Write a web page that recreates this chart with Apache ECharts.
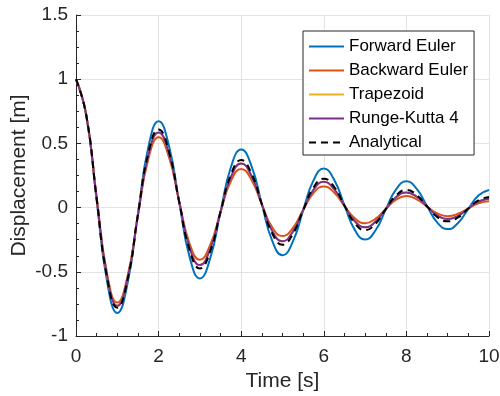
<!DOCTYPE html>
<html>
<head>
<meta charset="utf-8">
<script src="https://cdn.jsdelivr.net/npm/echarts@6/dist/echarts.min.js"></script>
<style>html,body{margin:0;padding:0;background:#fff}#c{width:500px;height:396px}</style>
</head>
<body>
<div id="c"></div>
<script>
const seriesNames = ['Forward Euler', 'Backward Euler', 'Trapezoid', 'Runge-Kutta 4', 'Analytical'];
const xTicks = [0, 2, 4, 6, 8, 10];
const yTicks = [-1, -0.5, 0, 0.5, 1, 1.5];
const time = [0,0.25,0.5,0.75,1,1.25,1.5,1.75,2,2.25,2.5,2.75,3,3.25,3.5,3.75,4,4.25,4.5,4.75,5,5.25,5.5,5.75,6,6.25,6.5,6.75,7,7.25,7.5,7.75,8,8.25,8.5,8.75,9,9.25,9.5,9.75,10];
const forwardEuler = [1,0.7154,0.0572,-0.5708,-0.82,-0.5866,-0.0469,0.4681,0.6724,0.4810,0.0385,-0.3838,-0.5514,-0.3944,-0.0315,0.3147,0.4521,0.3234,0.0259,-0.2581,-0.3707,-0.2652,-0.0212,0.2116,0.3040,0.2175,0.0174,-0.1735,-0.2493,-0.1783,-0.0143,0.1423,0.2044,0.1462,0.0117,-0.1167,-0.1676,-0.1199,-0.0096,0.0957,0.1374];
const backwardEuler = [1,0.7187,0.0825,-0.5101,-0.74,-0.5318,-0.0610,0.3775,0.5476,0.3936,0.0451,-0.2793,-0.4052,-0.2912,-0.0334,0.2067,0.2999,0.2155,0.0247,-0.1530,-0.2219,-0.1595,-0.0183,0.1132,0.1642,0.1180,0.0135,-0.0838,-0.1215,-0.0873,-0.0100,0.0620,0.0899,0.0646,0.0074,-0.0459,-0.0665,-0.0478,-0.0055,0.0339,0.0492];
const trapezoid = [1,0.7177,0.0746,-0.5291,-0.765,-0.5490,-0.0571,0.4047,0.5852,0.4200,0.0436,-0.3096,-0.4477,-0.3213,-0.0334,0.2369,0.3425,0.2458,0.0255,-0.1812,-0.2620,-0.1880,-0.0195,0.1386,0.2004,0.1438,0.0149,-0.1060,-0.1533,-0.1100,-0.0114,0.0811,0.1173,0.0842,0.0087,-0.0621,-0.0897,-0.0644,-0.0067,0.0475,0.0686];
const rungeKutta4 = [1,0.7177,0.0746,-0.5291,-0.765,-0.5490,-0.0571,0.4047,0.5852,0.4200,0.0436,-0.3096,-0.4477,-0.3213,-0.0334,0.2369,0.3425,0.2458,0.0255,-0.1812,-0.2620,-0.1880,-0.0195,0.1386,0.2004,0.1438,0.0149,-0.1060,-0.1533,-0.1100,-0.0114,0.0811,0.1173,0.0842,0.0087,-0.0621,-0.0897,-0.0644,-0.0067,0.0475,0.0686];
const analytical = [1,0.7171,0.0699,-0.5405,-0.78,-0.5593,-0.0545,0.4216,0.6084,0.4363,0.0425,-0.3288,-0.4746,-0.3403,-0.0332,0.2565,0.3702,0.2654,0.0259,-0.2001,-0.2887,-0.2070,-0.0202,0.1560,0.2252,0.1615,0.0157,-0.1217,-0.1757,-0.1260,-0.0123,0.0949,0.1370,0.0982,0.0096,-0.0741,-0.1069,-0.0766,-0.0075,0.0578,0.0834];

const allValues = [forwardEuler, backwardEuler, trapezoid, rungeKutta4, analytical];
const colors = ['#0072BD', '#D95319', '#EDB120', '#7E2F8E', '#000000'];
const FONT = '"Liberation Sans", Arial, Helvetica, sans-serif';
const TXT = '#262626';

const chart = echarts.init(document.getElementById('c'), null, {renderer: 'canvas'});
const series = seriesNames.map((name, i) => ({
  name: name,
  type: 'line',
  data: time.map((t, k) => [t, allValues[i][k]]),
  smooth: 0.5,
  showSymbol: false,
  symbol: 'none',
  animation: false,
  z: 2 + i,
  lineStyle: {color: colors[i], width: 2, type: i === 4 ? [7, 5] : 'solid'},
  itemStyle: {color: colors[i]}
}));

chart.setOption({
  animation: false,
  backgroundColor: '#ffffff',
  grid: {left: 76, right: 11, top: 15, bottom: 60, containLabel: false, outerBoundsMode: 'none'},
  legend: {
    orient: 'vertical',
    left: 303, top: 31,
    padding: [7, 6, 4, 5],
    itemGap: 7,
    itemWidth: 35, itemHeight: 14,
    backgroundColor: '#ffffff',
    borderColor: TXT, borderWidth: 1,
    itemStyle: {opacity: 0},
    textStyle: {fontFamily: FONT, fontSize: 17, color: '#000'},
    data: seriesNames
  },
  xAxis: {
    type: 'value', min: 0, max: 10, interval: 2,
    name: 'Time [s]', nameLocation: 'middle', nameGap: 35,
    nameMoveOverlap: false,
    nameTextStyle: {fontFamily: FONT, fontSize: 21, color: TXT},
    axisLine: {show: true, onZero: false, lineStyle: {color: TXT, width: 1}},
    axisTick: {show: true, inside: true, length: 5, lineStyle: {color: TXT}},
    minorTick: {show: true, splitNumber: 4, length: 3, lineStyle: {color: TXT}},
    axisLabel: {fontFamily: FONT, fontSize: 19, color: TXT, margin: 11,
      formatter: v => xTicks.includes(v) ? String(v) : ''},
    splitLine: {show: true, lineStyle: {color: '#e3e3e3', width: 1}}
  },
  yAxis: {
    type: 'value', min: -1, max: 1.5, interval: 0.5,
    name: 'Displacement [m]', nameLocation: 'middle', nameGap: 46,
    nameMoveOverlap: false,
    nameTextStyle: {fontFamily: FONT, fontSize: 21, color: TXT},
    axisLine: {show: true, onZero: false, lineStyle: {color: TXT, width: 1}},
    axisTick: {show: true, inside: true, length: 5, lineStyle: {color: TXT}},
    minorTick: {show: true, splitNumber: 4, length: 3, lineStyle: {color: TXT}},
    axisLabel: {fontFamily: FONT, fontSize: 19, color: TXT, margin: 8,
      formatter: v => yTicks.includes(v) ? String(v) : ''},
    splitLine: {show: true, lineStyle: {color: '#e3e3e3', width: 1}}
  },
  series: series
});
</script>
</body>
</html>
